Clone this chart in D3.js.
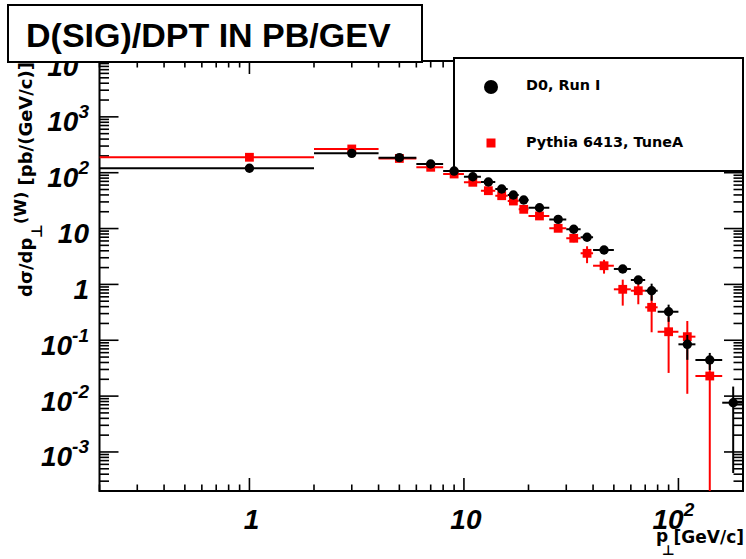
<!DOCTYPE html>
<html>
<head>
<meta charset="utf-8">
<script src="https://cdn.jsdelivr.net/npm/d3@7"></script>
<style>
  body { margin: 0; background: #fff; }
  svg { display: block; }
</style>
</head>
<body>
<svg id="chart" width="746" height="559"></svg>
<script>
// W boson transverse momentum spectrum: D0 Run I data vs Pythia 6413 TuneA
const binLo     = [0, 2, 4, 6, 8, 10, 12, 14, 16, 18, 20, 25, 30, 35, 40, 50, 60, 70, 80, 100, 120, 160];
const binHi     = [2, 4, 6, 8, 10, 12, 14, 16, 18, 20, 25, 30, 35, 40, 50, 60, 70, 80, 100, 120, 160, 200];
const binCenter = [1, 3, 5, 7, 9, 11, 13, 15, 17, 19, 22.5, 27.5, 32.5, 37.5, 45, 55, 65, 75, 90, 110, 140, 180];

const d0Values = [120, 222, 186, 143, 107, 84.8, 68.1, 51.1, 39.9, 32.5, 23.6, 14.6, 9.7, 7.0, 4.13, 1.89, 1.2, 0.771, 0.324, 0.0846, 0.0443, 0.00762];
const d0Errors = [4, 6, 5, 4, 3, 2.5, 2, 1.6, 1.3, 1.1, 0.8, 0.5, 0.35, 0.3, 0.2, 0.12, 0.15, 0.26, 0.11, 0.04, 0.015, 0.0072];

const pythiaValues = [189, 266, 180, 125, 94.8, 67.3, 47.6, 38.7, 31.1, 22.1, 16.8, 10.1, 6.7, 3.6, 2.16, 0.817, 0.771, 0.389, 0.142, 0.116, 0.0229, null];
const pythiaErrors = [5, 7, 5, 4, 3.5, 3, 2.5, 2, 2, 1.5, 1.2, 0.8, 1.0, 1.2, 0.6, 0.4, 0.33, 0.25, 0.116, 0.105, 0.025, null];

const xTickValues = [1, 10, 100];
const xTickBase   = ["1", "10", "10"];
const xTickExp    = ["", "", "2"];

const yTickValues = [1e-3, 1e-2, 1e-1, 1, 10, 100, 1e3, 1e4];
const yTickBase   = ["10", "10", "10", "1", "10", "10", "10", "10"];
const yTickExp    = ["-3", "-2", "-1", "", "", "2", "3", "4"];

const seriesNames = ["D0, Run I", "Pythia 6413, TuneA"];

const svg = d3.select("#chart");
const frame = { left: 99.5, right: 743, top: 61, bottom: 491 };

const x = d3.scaleLog().domain([0.2, 200]).range([frame.left, frame.right]);
const y = d3.scaleLog().domain([2e-4, 1e4]).range([frame.bottom, frame.top]);

const SANS = "'Liberation Sans', Arial, Helvetica, sans-serif";
const WIDE = "'DejaVu Sans', Verdana, sans-serif";

svg.append("rect").attr("width", 746).attr("height", 559).attr("fill", "#fff");

// ---- tick marks on all four sides (ROOT style, pointing inward)
const ticks = svg.append("g").attr("stroke", "#000").attr("stroke-width", 1.6);
const xMajorLen = 13, xMinorLen = 6.5, yMajorLen = 19, yMinorLen = 9.5;

function logTicks(domain) {
  const out = [];
  const k0 = Math.floor(Math.log10(domain[0])), k1 = Math.ceil(Math.log10(domain[1]));
  for (let k = k0; k <= k1; k++) {
    for (let m = 1; m <= 9; m++) {
      const v = m * Math.pow(10, k);
      if (v >= domain[0] * 0.9999 && v <= domain[1] * 1.0001) out.push({ v, major: m === 1 });
    }
  }
  return out;
}

logTicks(x.domain()).forEach(t => {
  const px = x(t.v), len = t.major ? xMajorLen : xMinorLen;
  ticks.append("line").attr("x1", px).attr("x2", px).attr("y1", frame.bottom).attr("y2", frame.bottom - len);
  ticks.append("line").attr("x1", px).attr("x2", px).attr("y1", frame.top).attr("y2", frame.top + len);
});
logTicks(y.domain()).forEach(t => {
  const py = y(t.v), len = t.major ? yMajorLen : yMinorLen;
  ticks.append("line").attr("y1", py).attr("y2", py).attr("x1", frame.left).attr("x2", frame.left + len);
  ticks.append("line").attr("y1", py).attr("y2", py).attr("x1", frame.right).attr("x2", frame.right - len);
});

// ---- frame
svg.append("rect")
  .attr("x", frame.left).attr("y", frame.top)
  .attr("width", frame.right - frame.left).attr("height", frame.bottom - frame.top)
  .attr("fill", "none").attr("stroke", "#000").attr("stroke-width", 2);

// ---- tick labels
const labelStyle = s => s.attr("font-family", SANS).attr("font-weight", "bold").attr("font-style", "italic").attr("fill", "#000");

yTickValues.forEach((v, i) => {
  const t = svg.append("text").call(labelStyle)
    .attr("x", 89).attr("y", y(v) + 14.5).attr("text-anchor", "end");
  t.append("tspan").attr("font-size", 28).text(yTickBase[i]);
  if (yTickExp[i]) t.append("tspan").attr("font-size", 19).attr("dy", -13).text(yTickExp[i]);
});

xTickValues.forEach((v, i) => {
  const t = svg.append("text").call(labelStyle)
    .attr("x", x(v) + (xTickExp[i] ? -5 : 2)).attr("y", 529).attr("text-anchor", "middle");
  t.append("tspan").attr("font-size", 28).text(xTickBase[i]);
  if (xTickExp[i]) t.append("tspan").attr("font-size", 19).attr("dy", -13).text(xTickExp[i]);
});

// ---- axis titles
const yTitle = svg.append("text")
  .attr("transform", `translate(32,62) rotate(-90)`)
  .attr("text-anchor", "end")
  .attr("font-family", WIDE).attr("font-weight", "bold").attr("font-size", 18).attr("fill", "#000");
yTitle.append("tspan").text("dσ/dp");
yTitle.append("tspan").attr("font-size", 15).attr("dy", 10).text("⊥");
yTitle.append("tspan").attr("font-size", 16).attr("dy", -16).text("(W)");
yTitle.append("tspan").attr("dy", 6).text(" [pb/(GeV/c)]");

svg.append("text").attr("x", 656).attr("y", 542)
  .attr("font-family", WIDE).attr("font-weight", "bold").attr("font-size", 17).text("p");
svg.append("text").attr("x", 668.5).attr("y", 555).attr("text-anchor", "middle")
  .attr("font-family", WIDE).attr("font-weight", "bold").attr("font-size", 14).text("⊥");
svg.append("text").attr("x", 744).attr("y", 543).attr("text-anchor", "end")
  .attr("font-family", WIDE).attr("font-weight", "bold").attr("font-size", 17).text("[GeV/c]");

// ---- legend
const legend = svg.append("g");
legend.append("rect").attr("x", 454).attr("y", 58).attr("width", 289).attr("height", 113)
  .attr("fill", "#fff").attr("stroke", "#000").attr("stroke-width", 2);
legend.append("circle").attr("cx", 491).attr("cy", 87).attr("r", 7).attr("fill", "#000");
legend.append("rect").attr("x", 486.5).attr("y", 138.5).attr("width", 9).attr("height", 9).attr("fill", "#ff0000");
legend.append("text").attr("x", 526).attr("y", 90)
  .attr("font-family", WIDE).attr("font-weight", "bold").attr("font-size", 14.4).text(seriesNames[0]);
legend.append("text").attr("x", 526).attr("y", 147)
  .attr("font-family", WIDE).attr("font-weight", "bold").attr("font-size", 14.4).text(seriesNames[1]);

// ---- data with error bars, clipped to the frame
svg.append("clipPath").attr("id", "plotArea").append("rect")
  .attr("x", frame.left).attr("y", frame.top)
  .attr("width", frame.right - frame.left).attr("height", frame.bottom - frame.top);
const plot = svg.append("g").attr("clip-path", "url(#plotArea)");

const xMin = x.domain()[0], yMin = y.domain()[0];

function drawSeries(values, errors, color, marker) {
  const g = plot.append("g");
  const pts = values.map((v, i) => ({ v, e: errors[i], lo: binLo[i], hi: binHi[i], c: binCenter[i] }))
    .filter(d => d.v != null && d.v > 0);
  g.selectAll("line.h").data(pts).join("line")
    .attr("x1", d => x(Math.max(d.lo, xMin))).attr("x2", d => x(d.hi))
    .attr("y1", d => y(d.v)).attr("y2", d => y(d.v))
    .attr("stroke", color).attr("stroke-width", 2);
  g.selectAll("line.v").data(pts).join("line")
    .attr("x1", d => x(d.c)).attr("x2", d => x(d.c))
    .attr("y1", d => y(d.v + d.e)).attr("y2", d => y(Math.max(d.v - d.e, yMin)))
    .attr("stroke", color).attr("stroke-width", 2);
  if (marker === "circle") {
    g.selectAll("circle").data(pts).join("circle")
      .attr("cx", d => x(d.c)).attr("cy", d => y(d.v)).attr("r", 4.7).attr("fill", color);
  } else {
    g.selectAll("rect").data(pts).join("rect")
      .attr("x", d => x(d.c) - 4.4).attr("y", d => y(d.v) - 4.4)
      .attr("width", 8.8).attr("height", 8.8).attr("fill", color);
  }
}
drawSeries(pythiaValues, pythiaErrors, "#ff0000", "square");
drawSeries(d0Values, d0Errors, "#000000", "circle");

// ---- title box
svg.append("rect").attr("x", 8).attr("y", 5).attr("width", 414).attr("height", 57)
  .attr("fill", "#fff").attr("stroke", "#000").attr("stroke-width", 2);
svg.append("text").attr("x", 26).attr("y", 47)
  .attr("font-family", SANS).attr("font-weight", "bold").attr("font-size", 34).attr("fill", "#000")
  .text("D(SIG)/DPT IN PB/GEV");
</script>
</body>
</html>
